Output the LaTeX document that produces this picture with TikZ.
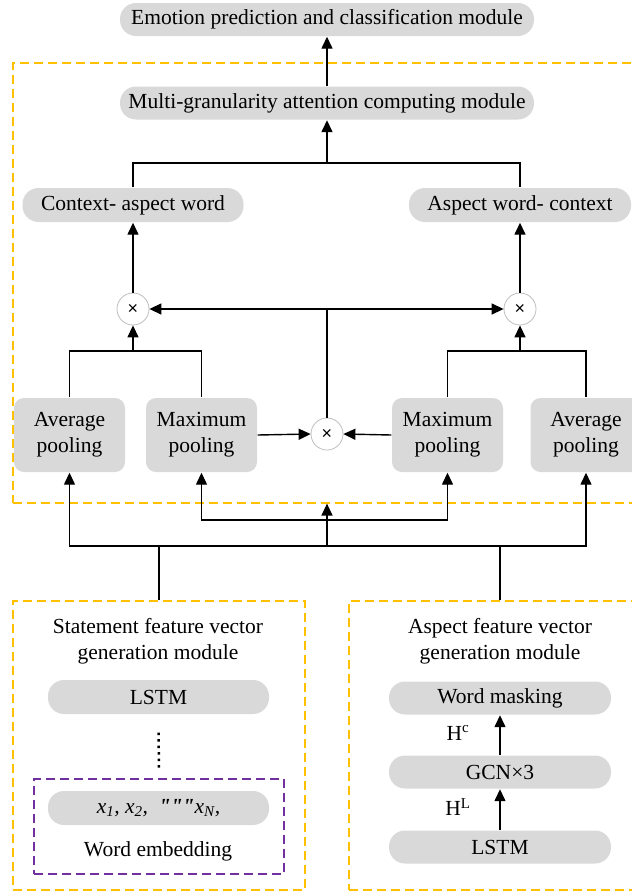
\documentclass[tikz,border=0pt]{standalone}
\usepackage{fontspec}
\setmainfont{Liberation Serif}
\setsansfont{Liberation Sans}
\usetikzlibrary{arrows.meta}
\definecolor{boxgray}{HTML}{D9D9D9}
\definecolor{ringgray}{HTML}{BFBFBF}
\definecolor{frameorange}{HTML}{FFC000}
\definecolor{framepurple}{HTML}{7030A0}

\begin{document}
\begin{tikzpicture}[x=1pt, y=-1pt, >={Triangle[length=12pt,width=11pt]}, line width=1.4pt,
    font=\fontsize{21.5}{26}\selectfont,
    pill/.style={fill=boxgray, rounded corners=16pt, minimum height=33pt, inner sep=0pt},
    poolbox/.style={fill=boxgray, rounded corners=10pt, minimum width=111pt, minimum height=74pt, align=center, inner sep=0pt},
    mult/.style={circle, draw=ringgray, line width=0.8pt, fill=white, minimum size=32pt, inner sep=0pt, font=\sffamily\fontsize{18}{18}\selectfont},
    yframe/.style={draw=frameorange, line width=1.2pt, dash pattern=on 9pt off 5pt, inner sep=0pt},
    pframe/.style={draw=framepurple, line width=1.2pt, dash pattern=on 9pt off 5pt, inner sep=0pt}]
    \clip (0,0) rectangle (632,892);

    \node[yframe, minimum width=628pt, minimum height=440pt] (topFrame) at (327,283) {};
    \node[yframe, minimum width=292pt, minimum height=289pt] (leftFrame) at (159,745.5) {};
    \node[yframe, minimum width=302pt, minimum height=289pt] (rightFrame) at (500,745.5) {};
    \node[pframe, minimum width=250pt, minimum height=95pt] (embFrame) at (159,826.5) {};

    \node[pill, minimum width=414pt] (emo) at (327,19.5) {Emotion prediction and classification module};
    \node[pill, minimum width=414pt] (multi) at (327,103) {Multi-granularity attention computing module};
    \node[pill, minimum width=221pt, minimum height=34pt] (ctx) at (133,205) {Context- aspect word};
    \node[pill, minimum width=222pt, minimum height=34pt] (asp) at (520,205) {Aspect word- context};

    \node[mult] (mulL) at (133,309) {×};
    \node[mult] (mulR) at (520,309) {×};
    \node[mult] (mulM) at (327,434) {×};

    \node[poolbox] (avgL) at (69.5,435) {Average\\pooling};
    \node[poolbox] (maxL) at (201.5,435) {Maximum\\pooling};
    \node[poolbox] (maxR) at (447.5,435) {Maximum\\pooling};
    \node[poolbox] (avgR) at (586,435) {Average\\pooling};

    \coordinate (jTop) at (327,163);
    \coordinate (jL) at (133,351);
    \coordinate (jR) at (520,351);
    \coordinate (jB1) at (327,520);
    \coordinate (jB2) at (327,546);

    \draw[->] (multi.north) -- (emo.south);
    \draw (ctx.north) -- (ctx.north |- jTop) -- (asp.north |- jTop) -- (asp.north);
    \draw[->] (jTop) -- (multi.south);
    \draw[->] (mulL.north) -- (ctx.south);
    \draw[->] (mulR.north) -- (asp.south);
    \draw[<->] (mulL.east) -- (mulR.west);
    \draw (mulM.north) -- (mulM.north |- mulL);
    \draw (avgL.north) |- (jL) -| (maxL.north);
    \draw[->] (jL) -- (mulL.south);
    \draw (maxR.north) |- (jR) -| (avgR.north);
    \draw[->] (jR) -- (mulR.south);
    \draw[->] (maxL.east) -- (mulM.west);
    \draw[->] (maxR.west) -- (mulM.east);

    \draw[->] (jB1) -| (maxL.south);
    \draw[->] (jB1) -| (maxR.south);
    \draw[->] (jB2) -| (avgL.south);
    \draw[->] (jB2) -| (avgR.south);
    \draw[->] (jB2) -- (topFrame.south);
    \draw (leftFrame.north) -- (leftFrame.north |- jB2);
    \draw (rightFrame.north) -- (rightFrame.north |- jB2);

    \node[align=center] (stmtTitle) at (158,641) {Statement feature vector\\generation module};
    \node[pill, minimum width=221pt, minimum height=34pt] (lstmL) at (158.5,697) {LSTM};
    \node[pill, minimum width=221pt, minimum height=34pt] (xPill) at (158.5,808)
        {\textit{x\textsubscript{1}, x\textsubscript{2}, \ \textbf{\textquotedbl\textquotedbl\textquotedbl}x\textsubscript{N},}};
    \node (embText) at (158,851) {Word embedding};
    \draw[line width=2.5pt, dash pattern=on 2.5pt off 4pt] ([yshift=-18pt]lstmL.south) -- ([yshift=8pt]embFrame.north);

    \node[align=center] (aspTitle) at (500,641) {Aspect feature vector\\generation module};
    \node[pill, minimum width=222pt] (mask) at (500,698) {Word masking};
    \node[pill, minimum width=222pt] (gcn) at (500,772) {GCN×3};
    \node[pill, minimum width=222pt] (lstmR) at (500,847) {LSTM};
    \draw[->] (lstmR.north) -- (gcn.south);
    \draw[->] (gcn.north) -- (mask.south);
    \node (hL) at (458,807) {H\textsuperscript{L}};
    \node (hC) at (458,733) {H\textsuperscript{c}};
\end{tikzpicture}
\end{document}
